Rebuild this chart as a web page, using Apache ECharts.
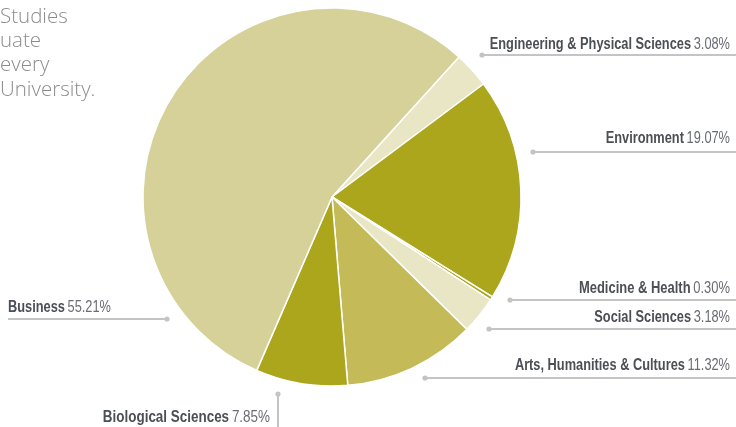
<!DOCTYPE html>
<html><head><meta charset="utf-8">
<script src="https://cdn.jsdelivr.net/npm/echarts@6/dist/echarts.min.js"></script>
<style>html,body{margin:0;padding:0;background:#fff}#c{width:736px;height:427px}</style>
</head><body><div id="c"></div>
<script>
const categories = ['Engineering & Physical Sciences','Environment','Medicine & Health','Social Sciences','Arts, Humanities & Cultures','Biological Sciences','Business'];
const values = [3.08, 19.07, 0.30, 3.18, 11.32, 7.85, 55.21];
const colors = ['#e9e6c6','#aca61d','#aca61d','#e9e6c6','#c4bb58','#aca61d','#d6d198'];
const introLines = ['Studies','uate','every','University.'];

// label placement (style only): text anchor, dot, line end, horizontal squeeze
const labelPos = [
  {tx:730, ty:45,  align:'right', dot:[482,55],  end:[736,55],  sx:0.80},
  {tx:730, ty:139, align:'right', dot:[533,152], end:[736,152], sx:0.80},
  {tx:730, ty:289, align:'right', dot:[510,300], end:[736,300], sx:0.81},
  {tx:730, ty:318, align:'right', dot:[489,329], end:[736,329], sx:0.80},
  {tx:730, ty:366, align:'right', dot:[425,378], end:[736,378], sx:0.80},
  {tx:270, ty:418, align:'right', dot:[278,394], end:[278,430], sx:0.84},
  {tx:8,   ty:308, align:'left',  dot:[167,319], end:[8,319],   sx:0.80}
];

const FONT = '"Liberation Sans", Arial, sans-serif';
const LINE = '#c4c4c4';
const labelGraphics = [];
categories.forEach((name, i) => {
  const p = labelPos[i];
  labelGraphics.push({type:'line', shape:{x1:p.dot[0], y1:p.dot[1], x2:p.end[0], y2:p.end[1]}, style:{stroke:LINE, lineWidth:2}, z:10});
  labelGraphics.push({type:'circle', shape:{cx:p.dot[0], cy:p.dot[1], r:2.6}, style:{fill:LINE}, z:11});
  labelGraphics.push({
    type:'text', x:p.tx, y:p.ty, scaleX:p.sx, z:12,
    style:{
      x:0, y:0,
      text:'{b|' + name + '} {v|' + values[i].toFixed(2) + '%}',
      align:p.align, textAlign:p.align, verticalAlign:'middle', textVerticalAlign:'middle',
      rich:{
        b:{fontFamily:FONT, fontWeight:'bold', fontSize:16, fill:'#4b4f56', color:'#4b4f56'},
        v:{fontFamily:FONT, fontWeight:'normal', fontSize:16, fill:'#696c72', color:'#696c72'}
      }
    }
  });
});

const chart = echarts.init(document.getElementById('c'), null, {renderer:'canvas'});
chart.setOption({
  animation:false,
  graphic: [
    {type:'text', x:0, y:4.5, style:{text: introLines.join('\n'), fill:'#8c8c8c', font:'300 20.5px "Open Sans", Roboto, sans-serif', lineHeight:24.4}}
  ].concat(labelGraphics),
  series:[{
    type:'pie',
    center:[332,197],
    radius:[0,189],
    startAngle:47.8,
    clockwise:true,
    data: categories.map((n,i)=>({name:n, value:values[i], itemStyle:{color:colors[i]}})),
    itemStyle:{borderColor:'#fff', borderWidth:1.5},
    label:{show:false},
    labelLine:{show:false},
    emphasis:{disabled:true}
  }]
});
</script></body></html>
